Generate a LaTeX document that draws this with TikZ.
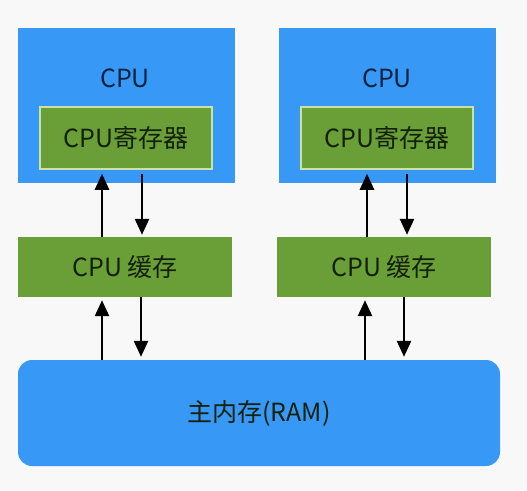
\documentclass[tikz,border=0pt]{standalone}
\usepackage{fontspec}
\setmainfont{Noto Sans CJK SC}
\usetikzlibrary{arrows.meta}
\definecolor{cpublue}{HTML}{3898F6}
\definecolor{cachegreen}{HTML}{6A9E37}
\definecolor{regedge}{HTML}{C9E3A6}
\definecolor{bluetext}{HTML}{0A2340}
\definecolor{greentext}{HTML}{13200A}
\definecolor{bg}{HTML}{F8F8F8}
\begin{document}
\begin{tikzpicture}[x=1pt,y=-1pt,
  cpubox/.style={fill=cpublue,draw=none},
  regbox/.style={fill=cachegreen,draw=regedge,line width=1.5pt,minimum width=172pt,minimum height=62pt,inner sep=0pt},
  cachebox/.style={fill=cachegreen,draw=none,minimum width=214pt,minimum height=60pt,inner sep=0pt},
  ramboxst/.style={fill=cpublue,draw=none,rounded corners=14pt,minimum width=482pt,minimum height=106pt,inner sep=0pt},
  lbl/.style={font=\fontsize{25}{27}\selectfont},
  flow/.style={draw=black,line width=2.6pt,-{Triangle[length=16pt,width=14pt]}}
]
\fill[bg] (0,0) rectangle (527,490);
\useasboundingbox (0,0) rectangle (527,490);
% CPU boxes
\node[cpubox,minimum width=217pt,minimum height=155pt,inner sep=0pt] (cpu1) at (126.5,105.5) {};
\node[cpubox,minimum width=217pt,minimum height=155pt,inner sep=0pt] (cpu2) at (387.5,105.5) {};
\node[lbl,text=bluetext] (cpu1t) at (125,78) {CPU};
\node[lbl,text=bluetext] (cpu2t) at (387,78) {CPU};
\node[regbox,lbl,text=greentext] (reg1) at (126,138) {CPU寄存器};
\node[regbox,lbl,text=greentext] (reg2) at (387,138) {CPU寄存器};
% caches
\node[cachebox,lbl,text=greentext] (cache1) at (125,267) {CPU 缓存};
\node[cachebox,lbl,text=greentext] (cache2) at (384,267) {CPU 缓存};
% RAM
\node[ramboxst,lbl,text=greentext] (ram) at (259,413) {主内存(RAM)};
% arrows cache <-> register
\draw[flow] (cache1.north -| 102,0) -- ([yshift=-4pt]reg1.south -| 102,0);
\draw[flow] ([yshift=-4pt]reg1.south -| 142,0) -- ([yshift=2pt]cache1.north -| 142,0);
\draw[flow] (cache2.north -| 367,0) -- ([yshift=-4pt]reg2.south -| 367,0);
\draw[flow] ([yshift=-4pt]reg2.south -| 407,0) -- ([yshift=2pt]cache2.north -| 407,0);
% arrows RAM <-> cache
\draw[flow] (ram.north -| 102,0) -- ([yshift=-3pt]cache1.south -| 102,0);
\draw[flow] (cache1.south -| 141,0) -- ([yshift=3pt]ram.north -| 141,0);
\draw[flow] (ram.north -| 365,0) -- ([yshift=-3pt]cache2.south -| 365,0);
\draw[flow] (cache2.south -| 404,0) -- ([yshift=3pt]ram.north -| 404,0);
\end{tikzpicture}
\end{document}
